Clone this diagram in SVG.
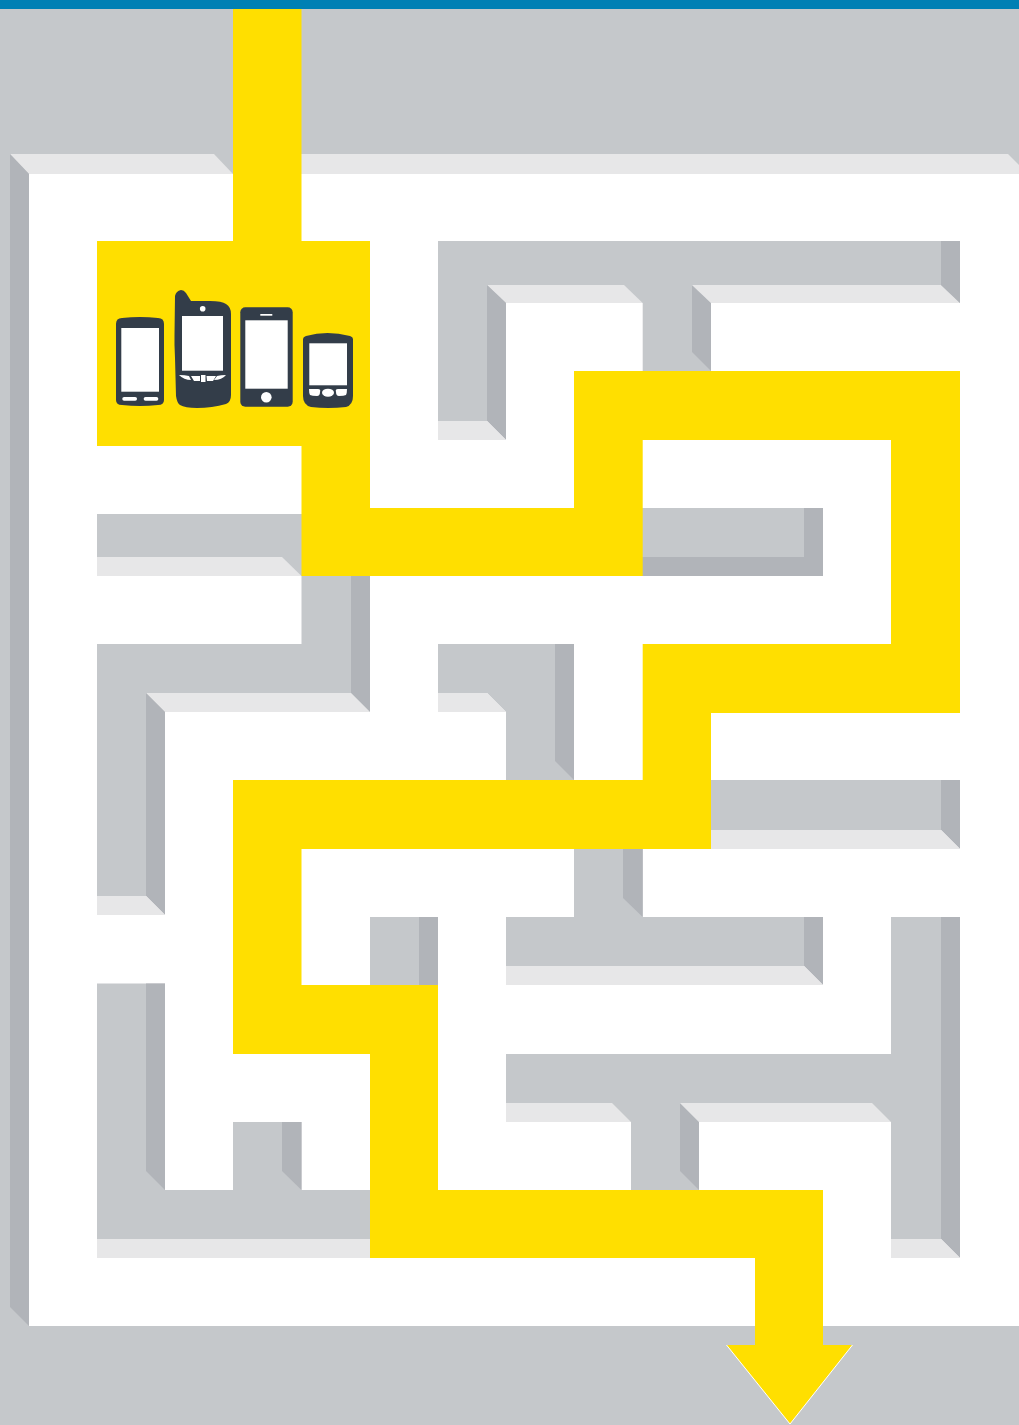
<svg xmlns="http://www.w3.org/2000/svg" width="1019" height="1425" viewBox="0 0 1019 1425">
<style>
.g{fill:#c5c8cb}.l{fill:#e7e7e8}.d{fill:#b1b4b9}.f{fill:#fff}.y{fill:#ffdf00}.p{fill:#333d49}
</style>
<rect class="g" width="1019" height="1425"/>
<rect x="0" y="0" width="1019" height="9" fill="#0080b4"/>
<g id="floor">
<rect class="f" x="29" y="174" width="990" height="1152"/>
<polygon class="l" points="10,154 214,154 233,174 29,174"/>
<polygon class="l" points="301,154 1008,154 1019,165 1019,174 301,174"/>
<polygon class="d" points="10,154 29,174 29,1326 10,1307"/>
</g>
<g id="wall-top-right">
<polygon class="g" points="438,241 960,241 960,303 711,303 711,371 642.700,371 642.700,303 506,303 506,421 438,421"/>
<polygon class="l" points="487,285 624,285 642.700,303 506,303"/>
<polygon class="d" points="487,285 506,303 506,440 487,421"/>
<polygon class="l" points="438,421 487,421 506,440 438,440"/>
<polygon class="d" points="692,285 711,303 711,371 692,352"/>
<polygon class="l" points="692,285 941,285 960,303 711,303"/>
<polygon class="d" points="941,241 960,241 960,303 941,285"/>
</g>
<g id="wall-left-upper">
<rect class="g" x="97" y="514" width="205" height="62"/>
<polygon class="g" points="301.500,576 370,576 370,712 146,712 146,896 97,896 97,644 301.500,644"/>
<polygon class="l" points="97,557 282,557 301.500,576 97,576"/>
<polygon class="d" points="351,576 370,576 370,712 351,693"/>
<polygon class="l" points="146,693 351,693 370,712 165,712"/>
<polygon class="d" points="146,693 165,712 165,915 146,896"/>
<polygon class="l" points="97,896 146,896 165,915 97,915"/>
</g>
<g id="wall-middle">
<rect class="g" x="642" y="508" width="162" height="49"/>
<polygon class="d" points="804,508 823,508 823,576 642,576 642,557 804,557"/>
</g>
<g id="wall-t-centre">
<polygon class="g" points="438,644 574,644 574,780 506,780 506,712 487,693 438,693"/>
<polygon class="l" points="438,693 487,693 506,712 438,712"/>
<polygon class="d" points="555,644 574,644 574,780 555,761"/>
</g>
<g id="wall-right-mid">
<rect class="g" x="711" y="780" width="230" height="50"/>
<polygon class="d" points="941,780 960,780 960,849 941,830"/>
<polygon class="l" points="711,830 941,830 960,849 711,849"/>
</g>
<g id="wall-lower-centre">
<rect class="g" x="574" y="849" width="68.700" height="68"/>
<polygon class="d" points="623,849 642.700,849 642.700,917 623,898"/>
<rect class="g" x="506" y="917" width="298" height="49"/>
<polygon class="d" points="804,917 823,917 823,985 804,966"/>
<polygon class="l" points="506,966 804,966 823,985 506,985"/>
<rect class="g" x="370" y="917" width="49" height="68"/>
<rect class="d" x="419" y="917" width="19" height="68"/>
</g>
<g id="wall-lower-right">
<polygon class="g" points="891,917 941,917 941,1239 891,1239 891,1122 699,1122 699,1190 631,1190 631,1122 506,1122 506,1054 891,1054"/>
<polygon class="d" points="941,917 960,917 960,1258 941,1239"/>
<polygon class="l" points="891,1239 941,1239 960,1258 891,1258"/>
<polygon class="l" points="506,1103 612,1103 631,1122 506,1122"/>
<polygon class="d" points="680,1103 699,1122 699,1190 680,1171"/>
<polygon class="l" points="680,1103 872,1103 891,1122 699,1122"/>
</g>
<g id="wall-lower-left">
<polygon class="g" points="97,983.500 165,983.500 165,1190 233,1190 233,1122 301.500,1122 301.500,1190 370,1190 370,1239 97,1239"/>
<polygon class="d" points="146,983.500 165,983.500 165,1190 146,1171"/>
<polygon class="d" points="282,1122 301.500,1122 301.500,1190 282,1171"/>
<polygon class="l" points="97,1239 370,1239 370,1258 97,1258"/>
</g>
<g id="path">
<polygon class="y" points="233,9 301.500,9 301.500,241 370,241 370,508 574,508 574,371 960,371 960,713 711,713 711,849 301.500,849 301.500,985 438,985 438,1190 823,1190 823,1345 852.500,1345 790,1424 726.500,1345 755,1345 755,1258 370,1258 370,1054 233,1054 233,780 642.700,780 642.700,644 891,644 891,440 642.700,440 642.700,576 301.500,576 301.500,446 97,446 97,241 233,241"/>
<path d="M726.500,1345L790,1424L852.500,1345" fill="none" stroke="#fff" stroke-width="1"/>
</g>
<g id="phone-1">
<path class="p" d="M116,324Q116,318 122,318Q140,316 158,318Q164,318 164,324V400Q164,405 158,405Q140,407 122,405Q116,405 116,400Z"/>
<rect class="f" x="121.300" y="328" width="37.700" height="63.700"/>
<rect class="f" x="122.300" y="397" width="14.700" height="3.700" rx="1.800"/>
<rect class="f" x="143.700" y="397" width="14.600" height="3.700" rx="1.800"/>
</g>
<g id="phone-2">
<path class="p" d="M175,296Q176,291 181,290Q184,290 186,293L191,301H210Q222,301 226,304Q231,307 231,314V358V395Q231,402 226,404Q212,408 197,408Q185,408 180,405Q177,403 176,396L175,358L174.500,345V335Z"/>
<rect class="f" x="182" y="316" width="41" height="54.700"/>
<circle class="f" cx="202.700" cy="308.700" r="2.800"/>
<path class="f" d="M179,375Q185,375 189,376L191,380Q184,380 179,375ZM191,376H200V381H194ZM201,375H205.500V382H201ZM206.500,376H216L213,381H207ZM217,376Q221,375 226,375Q222,380 214,380Z"/>
</g>
<g id="phone-3">
<rect class="p" x="240.300" y="307.300" width="52.400" height="99.400" rx="5"/>
<rect class="f" x="245.300" y="320.300" width="42.400" height="68.400"/>
<rect class="f" x="260.300" y="314" width="12" height="1.700"/>
<circle class="f" cx="266.300" cy="397.300" r="5.300"/>
</g>
<g id="phone-4">
<path class="p" d="M303,339Q303,337 306,336Q327,330 350,336Q353,337 353,339V396Q353,405 346,407Q328,409 311,407Q303,405 303,396Z"/>
<rect class="f" x="309.300" y="343.300" width="37.700" height="42"/>
<path class="f" d="M309,389H318Q321,389 320,392Q320,396 317,396Q312,396 310,395Q309,393 309,389Z"/>
<ellipse class="f" cx="328" cy="392.700" rx="6" ry="4"/>
<path class="f" d="M347,389H338Q335,389 336,392Q336,396 339,396Q344,396 346,395Q347,393 347,389Z"/>
</g>
</svg>
